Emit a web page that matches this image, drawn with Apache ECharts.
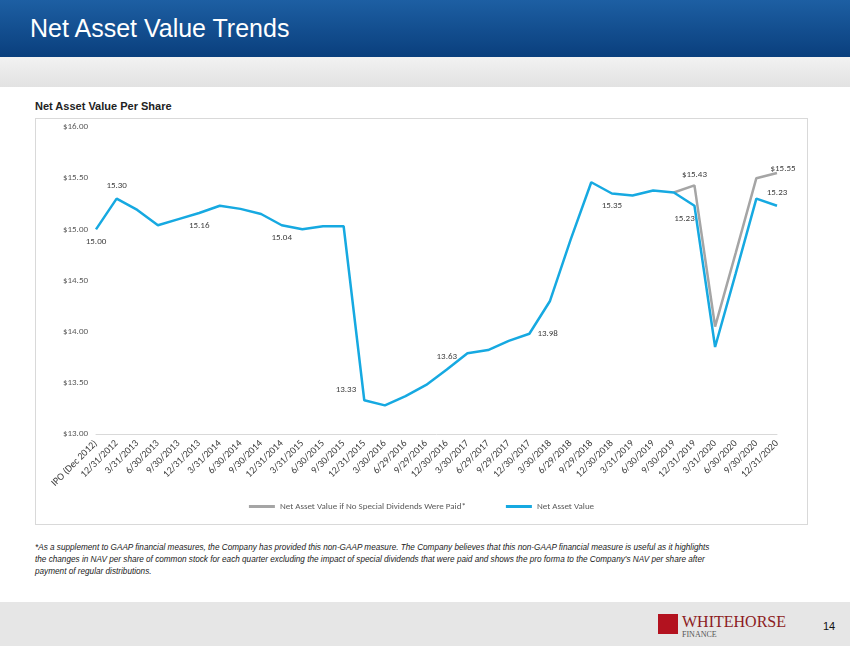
<!DOCTYPE html>
<html><head><meta charset="utf-8">
<script src="https://cdn.jsdelivr.net/npm/echarts@6/dist/echarts.min.js"></script>
<style>
body{margin:0;width:850px;height:649px;position:relative;background:#fff;font-family:Arial,"Liberation Sans",sans-serif;overflow:hidden}
#hdr{position:absolute;left:0;top:0;width:850px;height:57px;background:linear-gradient(#1d5fa3,#0a3f7d)}
#hdr div{position:absolute;left:30px;top:14px;color:#fff;font-size:25px}
#band{position:absolute;left:0;top:57px;width:850px;height:30px;background:linear-gradient(#f2f2f2,#e2e2e2)}
#sub{position:absolute;left:35px;top:100px;font-size:11px;font-weight:bold;color:#222}
#box{position:absolute;left:35px;top:118px;width:773px;height:407px;border:1px solid #d9d9d9;box-sizing:border-box}
#chart{width:771px;height:405px}
#note{position:absolute;left:35px;top:542px;width:712px;font-size:8.2px;font-style:italic;line-height:12px;color:#222}
#foot{position:absolute;left:0;top:602px;width:850px;height:44px;background:#e6e6e6}
#logo{position:absolute;left:658px;top:612px;}
#pg{position:absolute;left:823px;top:620px;font-size:11px;color:#111}
</style></head><body>
<div id="hdr"><div>Net Asset Value Trends</div></div>
<div id="band"></div>
<div id="sub">Net Asset Value Per Share</div>
<div id="box"><div id="chart"></div></div>
<div id="note">*As a supplement to GAAP financial measures, the Company has provided this non-GAAP measure. The Company believes that this non-GAAP financial measure is useful as it highlights<br>the changes in NAV per share of common stock for each quarter excluding the impact of special dividends that were paid and shows the pro forma to the Company's NAV per share after<br>payment of regular distributions.</div>
<div id="foot"></div>
<div id="logo"><svg width="160" height="26"><rect x="0" y="2" width="20" height="20" fill="#b3121f"/><text x="24" y="15" font-family="Liberation Serif,serif" font-size="16" fill="#8c1b22">WHITEHORSE</text><text x="24" y="25" font-family="Liberation Serif,serif" font-size="8" fill="#555">FINANCE</text></svg></div>
<div id="pg">14</div>
<script>
var categories = ["IPO (Dec 2012)","12/31/2012","3/31/2013","6/30/2013","9/30/2013","12/31/2013","3/31/2014","6/30/2014","9/30/2014","12/31/2014","3/31/2015","6/30/2015","9/30/2015","12/31/2015","3/30/2016","6/29/2016","9/29/2016","12/30/2016","3/30/2017","6/29/2017","9/29/2017","12/30/2017","3/30/2018","6/29/2018","9/29/2018","12/30/2018","3/31/2019","6/30/2019","9/30/2019","12/31/2019","3/31/2020","6/30/2020","9/30/2020","12/31/2020"];
var nav = [15.00,15.30,15.19,15.04,15.10,15.16,15.23,15.20,15.15,15.04,15.00,15.03,15.03,13.33,13.28,13.37,13.48,13.63,13.79,13.82,13.91,13.98,14.30,14.90,15.46,15.35,15.33,15.38,15.36,15.23,13.85,14.57,15.30,15.23];
var navNoSpecial = [null,null,null,null,null,null,null,null,null,null,null,null,null,null,null,null,null,null,null,null,null,null,null,null,null,null,null,null,15.36,15.43,14.05,14.77,15.50,15.55];
var navLabels = {0:'bottom',1:'top',5:'bottom',9:'bottom',13:'left',17:'top',21:'right',25:'bottom',29:'bottom',33:'top'};
var grayLabels = {29:'top',33:'top'};

var chart = echarts.init(document.getElementById('chart'));
function lab(arr, map, prefix){
  return arr.map(function(v,i){
    if(map[i]) return {value:v,label:{show:true,position:map[i],formatter:prefix+v.toFixed(2)}};
    return v;
  });
}
var d = lab(nav, navLabels, '');
d[29].label.offset = [-10, 0];
d[13].label.offset = [0, -10];
var g = lab(navNoSpecial, grayLabels, '$');
g[33].label.offset = [6, 6];

chart.setOption({
  animation:false,
  textStyle:{fontFamily:'Calibri, Carlito, "Liberation Sans", sans-serif'},
  grid:{left:60,right:30,top:8,height:307},
  legend:{bottom:8,itemWidth:26,itemHeight:3,icon:'rect',textStyle:{fontSize:9,color:'#595959'},itemGap:40},
  xAxis:{type:'category',data:categories,boundaryGap:false,
    axisLine:{lineStyle:{color:'#d9d9d9'}},axisTick:{show:false},
    axisLabel:{rotate:45,fontSize:10,color:'#404040',interval:0,margin:8}},
  yAxis:{type:'value',min:13,max:16,interval:0.5,
    axisLabel:{fontSize:9,color:'#595959',formatter:function(v){return '$'+v.toFixed(2);}},
    splitLine:{show:false},axisLine:{show:false},axisTick:{show:false}},
  series:[
    {name:'Net Asset Value if No Special Dividends Were Paid*',type:'line',data:g,
     symbol:'circle',symbolSize:0.1,showSymbol:true,lineStyle:{color:'#a5a5a5',width:2.5},itemStyle:{color:'#a5a5a5'},
     label:{fontSize:9,color:'#404040',distance:6}},
    {name:'Net Asset Value',type:'line',data:d,
     symbol:'circle',symbolSize:0.1,showSymbol:true,lineStyle:{color:'#16a9e1',width:2.5},itemStyle:{color:'#16a9e1'},
     label:{fontSize:9,color:'#404040',distance:8}}
  ]
});
</script>
</body></html>
